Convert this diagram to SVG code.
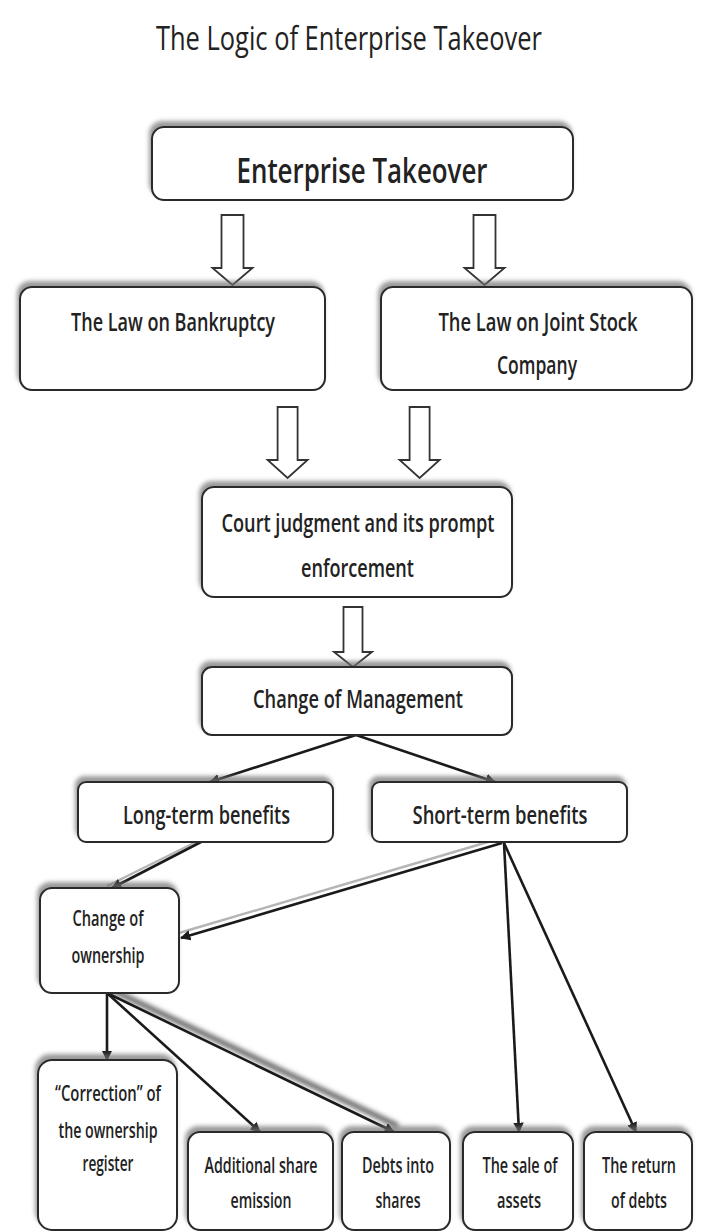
<svg xmlns="http://www.w3.org/2000/svg" width="702" height="1232" viewBox="0 0 702 1232">
  <style>
    .box { fill: #ffffff; stroke: #2a2a2a; stroke-width: 2; filter: url(#topShadow); }
    .blk { fill: #ffffff; stroke: #333333; stroke-width: 1.8; stroke-linejoin: miter; }
    .t { font-family: "Open Sans", "Noto Sans", "Liberation Sans", sans-serif; font-weight: 600; fill: #222222; text-anchor: middle; }
    .title { font-weight: 500; }
    .ln { stroke: #1a1a1a; stroke-width: 2.6; fill: none; marker-end: url(#head); }
    .sh { stroke: #b5b5b5; stroke-width: 2.4; fill: none; }
  </style>
  <defs>
    <filter id="topShadow" x="-10%" y="-20%" width="120%" height="140%">
      <feDropShadow dx="-2" dy="-5" stdDeviation="2" flood-color="#707070" flood-opacity="0.7"/>
    </filter>
    <filter id="soft" x="-10%" y="-10%" width="120%" height="120%">
      <feGaussianBlur stdDeviation="2.5"/>
    </filter>
    <marker id="head" viewBox="0 0 10 10" refX="9" refY="5" markerWidth="4" markerHeight="4" orient="auto" markerUnits="strokeWidth">
      <path d="M0,0 L10,5 L0,10 Z" fill="#1a1a1a"/>
    </marker>
  </defs>

  <rect width="702" height="1232" fill="#ffffff"/>

  <text class="t title" x="349" y="50" font-size="32" textLength="386" lengthAdjust="spacingAndGlyphs">The Logic of Enterprise Takeover</text>

  <!-- block arrows between the upper levels -->
  <g id="block-arrows">
    <polygon class="blk" points="221.5,215 243.5,215 243.5,268 252.5,268 232.5,285 212.5,268 221.5,268"/>
    <polygon class="blk" points="473.5,215 495.5,215 495.5,268 504.5,268 484.5,285 464.5,268 473.5,268"/>
    <polygon class="blk" points="277.6,407 297.6,407 297.6,460 307.6,460 287.6,478 267.6,460 277.6,460"/>
    <polygon class="blk" points="409.6,407 429.6,407 429.6,460 439.6,460 419.6,478 399.6,460 409.6,460"/>
    <polygon class="blk" points="343.5,607 362.5,607 362.5,652 372,652 353,667 334,652 343.5,652"/>
  </g>

  <!-- line connectors -->
  <g id="connectors">
    <line class="ln" x1="356" y1="735" x2="210" y2="782"/>
    <line class="ln" x1="356" y1="735" x2="495" y2="782"/>
    <line class="sh" x1="196" y1="842" x2="107" y2="886"/>
    <line class="ln" x1="201" y1="842" x2="112" y2="888"/>
    <line class="sh" x1="498" y1="839" x2="179" y2="933"/>
    <line class="ln" x1="502" y1="843" x2="181" y2="938"/>
    <line class="ln" x1="504" y1="843" x2="519" y2="1132"/>
    <line class="ln" x1="504" y1="843" x2="636" y2="1132"/>
    <line class="ln" x1="107" y1="993" x2="107" y2="1060"/>
    <line class="ln" x1="107" y1="993" x2="260" y2="1132"/>
    <line stroke="#555555" stroke-width="5" filter="url(#soft)" x1="112" y1="990" x2="398" y2="1126"/>
    <line class="ln" x1="107" y1="993" x2="394" y2="1132"/>
  </g>

  <g id="enterprise-takeover">
    <rect class="box" x="152" y="127" width="421" height="73" rx="12"/>
    <text class="t" x="362" y="183" font-size="35" textLength="251" lengthAdjust="spacingAndGlyphs">Enterprise Takeover</text>
  </g>

  <g id="law-bankruptcy">
    <rect class="box" x="20" y="287" width="305" height="103" rx="12"/>
    <text class="t" x="173" y="331" font-size="25" textLength="204" lengthAdjust="spacingAndGlyphs">The Law on Bankruptcy</text>
  </g>

  <g id="law-joint-stock">
    <rect class="box" x="381" y="287" width="311" height="103" rx="12"/>
    <text class="t" x="538" y="331" font-size="25" textLength="199" lengthAdjust="spacingAndGlyphs">The Law on Joint Stock</text>
    <text class="t" x="537" y="374" font-size="25" textLength="80" lengthAdjust="spacingAndGlyphs">Company</text>
  </g>

  <g id="court-judgment">
    <rect class="box" x="202" y="487" width="310" height="110" rx="12"/>
    <text class="t" x="358" y="532" font-size="25" textLength="273" lengthAdjust="spacingAndGlyphs">Court judgment and its prompt</text>
    <text class="t" x="357.5" y="577" font-size="25" textLength="113" lengthAdjust="spacingAndGlyphs">enforcement</text>
  </g>

  <g id="change-management">
    <rect class="box" x="202" y="667" width="310" height="68" rx="10"/>
    <text class="t" x="358" y="708" font-size="25" textLength="210" lengthAdjust="spacingAndGlyphs">Change of Management</text>
  </g>

  <g id="long-term">
    <rect class="box" x="78" y="782" width="255" height="60" rx="8"/>
    <text class="t" x="206.5" y="824" font-size="25" textLength="167" lengthAdjust="spacingAndGlyphs">Long-term benefits</text>
  </g>

  <g id="short-term">
    <rect class="box" x="372" y="782" width="255" height="60" rx="8"/>
    <text class="t" x="500" y="824" font-size="25" textLength="175" lengthAdjust="spacingAndGlyphs">Short-term benefits</text>
  </g>

  <g id="change-ownership">
    <rect class="box" x="40" y="888" width="139" height="105" rx="12"/>
    <text class="t" x="108" y="926" font-size="21" textLength="71" lengthAdjust="spacingAndGlyphs">Change of</text>
    <text class="t" x="108" y="963" font-size="21" textLength="73" lengthAdjust="spacingAndGlyphs">ownership</text>
  </g>

  <g id="correction-register">
    <rect class="box" x="38" y="1060" width="139" height="170" rx="14"/>
    <text class="t" x="108" y="1101" font-size="21" textLength="106" lengthAdjust="spacingAndGlyphs">“Correction” of</text>
    <text class="t" x="108" y="1138" font-size="21" textLength="99" lengthAdjust="spacingAndGlyphs">the ownership</text>
    <text class="t" x="108" y="1171" font-size="21" textLength="51" lengthAdjust="spacingAndGlyphs">register</text>
  </g>

  <g id="additional-share">
    <rect class="box" x="188" y="1132" width="145" height="98" rx="12"/>
    <text class="t" x="261" y="1173" font-size="21" textLength="113" lengthAdjust="spacingAndGlyphs">Additional share</text>
    <text class="t" x="261" y="1208" font-size="21" textLength="61" lengthAdjust="spacingAndGlyphs">emission</text>
  </g>

  <g id="debts-into-shares">
    <rect class="box" x="342" y="1132" width="108" height="98" rx="12"/>
    <text class="t" x="398" y="1173" font-size="21" textLength="72" lengthAdjust="spacingAndGlyphs">Debts into</text>
    <text class="t" x="398" y="1208" font-size="21" textLength="45" lengthAdjust="spacingAndGlyphs">shares</text>
  </g>

  <g id="sale-of-assets">
    <rect class="box" x="463" y="1132" width="110" height="98" rx="12"/>
    <text class="t" x="520" y="1173" font-size="21" textLength="75" lengthAdjust="spacingAndGlyphs">The sale of</text>
    <text class="t" x="519" y="1208" font-size="21" textLength="44" lengthAdjust="spacingAndGlyphs">assets</text>
  </g>

  <g id="return-of-debts">
    <rect class="box" x="584" y="1132" width="108" height="98" rx="12"/>
    <text class="t" x="639" y="1173" font-size="21" textLength="74" lengthAdjust="spacingAndGlyphs">The return</text>
    <text class="t" x="639" y="1208" font-size="21" textLength="56" lengthAdjust="spacingAndGlyphs">of debts</text>
  </g>
</svg>
